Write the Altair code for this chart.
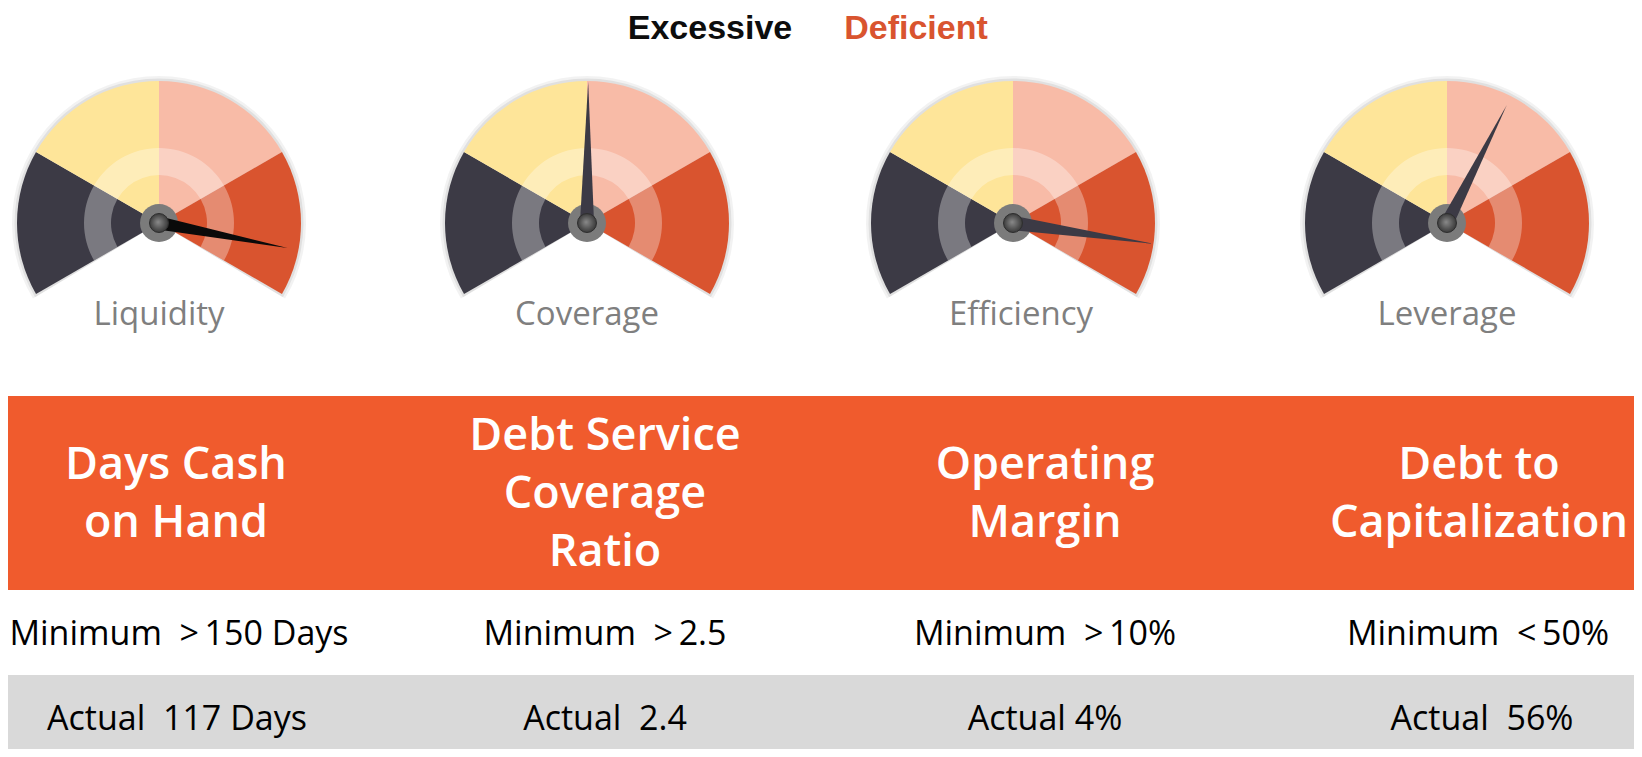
import altair as alt
import pandas as pd

# ---------------- data ----------------
gauge_names = ["Liquidity", "Coverage", "Efficiency", "Leverage"]
needle_values = [92.1, 50.2, 91.0, 61.2]          # position on the 0-100 gauge scale
zone_names = ["Excessive", "Above", "Below", "Deficient"]
zone_starts = [0, 25, 50, 75]
zone_ends = [25, 50, 75, 100]
legend_labels = ["Excessive", "Deficient"]
header_lines = [
    ["Days Cash", "on Hand"],
    ["Debt Service", "Coverage", "Ratio"],
    ["Operating", "Margin"],
    ["Debt to", "Capitalization"],
]
NB = "\u00a0"
TH = "\u2009"
minimum_labels = [
    f"Minimum{NB}{NB}>{TH}150 Days",
    f"Minimum{NB}{NB}>{TH}2.5",
    f"Minimum{NB}{NB}>{TH}10%",
    f"Minimum{NB}{NB}<{TH}50%",
]
actual_labels = [
    f"Actual{NB}{NB}117 Days",
    f"Actual{NB}{NB}2.4",
    "Actual 4%",
    f"Actual{NB}{NB}56%",
]

# ---------------- styles ----------------
zone_colors = ["#3c3a45", "#fee599", "#f8bba7", "#d9542f"]
legend_colors = ["#0d0d0d", "#d9542f"]
needle_colors = ["#0a0a0a", "#3c3a45", "#3c3a45", "#3c3a45"]
row_colors = ["#f05b2d", "#ffffff", "#d9d9d9"]
LABEL_GRAY = "#7f7f7f"

# ---------------- layout (page pixels) ----------------
OFF = 8
W, H = 1642 - 2 * OFF, 757 - 2 * OFF
gauge_x = [159, 587, 1013, 1447]
gauge_y = 223
R_OUT, RING_OUT, RING_IN = 142, 75, 48
needle_len = [131, 141, 142, 132]
label_dx = [0, 0, 8, 0]
label_y = 325
legend_x = [710, 916]
legend_y = 39
row_edges = [396, 590, 675, 760]
header_x = [176, 605, 1045, 1479]
header_mid, header_lh = 507.5, 58
min_x = [179, 605, 1045, 1478]
min_y = 645
act_x = [177, 605, 1045, 1482]
act_y = 730

XS = alt.Scale(domain=[OFF, OFF + W], nice=False, zero=False)
YS = alt.Scale(domain=[OFF, OFF + H], nice=False, zero=False, reverse=True)
TS = alt.Scale(domain=[0, 100], range=[-2.0943951, 2.0943951])
AS = alt.Scale(domain=[0, 100], range=[240, 480])


def X(f):
    return alt.X(f, type="quantitative", scale=XS, axis=None)


def Y(f):
    return alt.Y(f, type="quantitative", scale=YS, axis=None)


# ---------------- tables ----------------
seg_df = pd.DataFrame([
    {"x": gauge_x[i], "y": gauge_y, "start": zone_starts[j], "end": zone_ends[j],
     "zone": zone_names[j], "c": zone_colors[j]}
    for i in range(len(gauge_names)) for j in range(len(zone_names))
])
full_df = pd.DataFrame([{"x": gauge_x[i], "y": gauge_y, "start": 0, "end": 100}
                        for i in range(len(gauge_names))])
shadow_df = pd.DataFrame([{"x": gauge_x[i], "y": gauge_y, "start": -0.4, "end": 100.4}
                          for i in range(len(gauge_names))])
needle_df = pd.DataFrame([
    {"x": gauge_x[i], "y": gauge_y, "v": needle_values[i],
     "s": (2 * needle_len[i]) ** 2, "c": needle_colors[i]}
    for i in range(len(gauge_names))
])
label_df = pd.DataFrame([{"x": gauge_x[i] + label_dx[i], "y": label_y, "t": gauge_names[i]}
                         for i in range(len(gauge_names))])
legend_df = pd.DataFrame([{"x": legend_x[i], "y": legend_y, "t": legend_labels[i], "c": legend_colors[i]}
                          for i in range(len(legend_labels))])
rows_df = pd.DataFrame([{"x1": OFF, "x2": OFF + W, "y1": row_edges[k], "y2": row_edges[k + 1],
                         "c": row_colors[k]} for k in range(3)])
hdr = []
for i, lines in enumerate(header_lines):
    n = len(lines)
    for k, ln in enumerate(lines):
        hdr.append({"x": header_x[i], "y": header_mid + (k - (n - 1) / 2) * header_lh, "t": ln})
header_df = pd.DataFrame(hdr)
min_df = pd.DataFrame([{"x": min_x[i], "y": min_y, "t": minimum_labels[i]} for i in range(4)])
act_df = pd.DataFrame([{"x": act_x[i], "y": act_y, "t": actual_labels[i]} for i in range(4)])

# ---------------- layers ----------------
rows = alt.Chart(rows_df).mark_rect().encode(
    x=X("x1"), x2="x2", y=Y("y1"), y2="y2", color=alt.Color("c:N", scale=None))


def arc_layer(df, r, r2, **kw):
    return alt.Chart(df).mark_arc(radius=r, radius2=r2, **kw).encode(
        x=X("x"), y=Y("y"),
        theta=alt.Theta("start:Q", scale=TS, stack=False),
        theta2=alt.Theta2("end:Q"))


shadow1 = arc_layer(shadow_df, R_OUT + 5, 0, color="#000000", opacity=0.05)
shadow2 = arc_layer(shadow_df, R_OUT + 2.5, 0, color="#000000", opacity=0.07)
segs = alt.Chart(seg_df).mark_arc(radius=R_OUT, radius2=0).encode(
    x=X("x"), y=Y("y"),
    theta=alt.Theta("start:Q", scale=TS, stack=False),
    theta2=alt.Theta2("end:Q"),
    color=alt.Color("c:N", scale=None))
ring = arc_layer(full_df, RING_OUT, RING_IN, color="#ffffff", opacity=0.32)

hub_outer = alt.Chart(full_df).mark_circle(color="#7b7b7b", opacity=1, size=38 * 38).encode(
    x=X("x"), y=Y("y"))
needle = alt.Chart(needle_df).mark_point(
    shape="M -0.05 0 L 0 -1 L 0.05 0 Z", filled=True, opacity=1, strokeWidth=0).encode(
    x=X("x"), y=Y("y"),
    angle=alt.Angle("v:Q", scale=AS),
    size=alt.Size("s:Q", scale=None),
    color=alt.Color("c:N", scale=None))
hub_inner = alt.Chart(full_df).mark_circle(
    color=alt.RadialGradient(
        gradient="radial",
        stops=[alt.GradientStop(color="#8a8a8a", offset=0),
               alt.GradientStop(color="#555555", offset=0.6),
               alt.GradientStop(color="#333333", offset=1)],
        x1=0.45, y1=0.45, r1=0, x2=0.5, y2=0.5, r2=0.55),
    opacity=1, size=19 * 19, stroke="#2e2e2e", strokeWidth=1).encode(x=X("x"), y=Y("y"))

labels = alt.Chart(label_df).mark_text(
    font="Open Sans", fontSize=33, color=LABEL_GRAY, align="center", baseline="alphabetic").encode(
    x=X("x"), y=Y("y"), text="t:N")
legend = alt.Chart(legend_df).mark_text(
    font="Liberation Sans", fontSize=34, fontWeight="bold", align="center", baseline="alphabetic").encode(
    x=X("x"), y=Y("y"), text="t:N", color=alt.Color("c:N", scale=None))
headers = alt.Chart(header_df).mark_text(
    font="Open Sans", fontSize=45, fontWeight=600, color="#ffffff", align="center",
    baseline="alphabetic").encode(x=X("x"), y=Y("y"), text="t:N")
mins = alt.Chart(min_df).mark_text(
    font="Open Sans", fontSize=34, color="#000000", align="center", baseline="alphabetic").encode(
    x=X("x"), y=Y("y"), text="t:N")
acts = alt.Chart(act_df).mark_text(
    font="Open Sans", fontSize=34, color="#000000", align="center", baseline="alphabetic").encode(
    x=X("x"), y=Y("y"), text="t:N")

chart = alt.layer(
    rows, shadow1, shadow2, segs, ring, hub_outer, needle, hub_inner,
    labels, legend, headers, mins, acts
).properties(
    width=W, height=H, padding=0, autosize=alt.AutoSizeParams(type="none")
).configure_view(strokeWidth=0)

chart.save("out.html", embed_options={"renderer": "svg", "actions": False})
